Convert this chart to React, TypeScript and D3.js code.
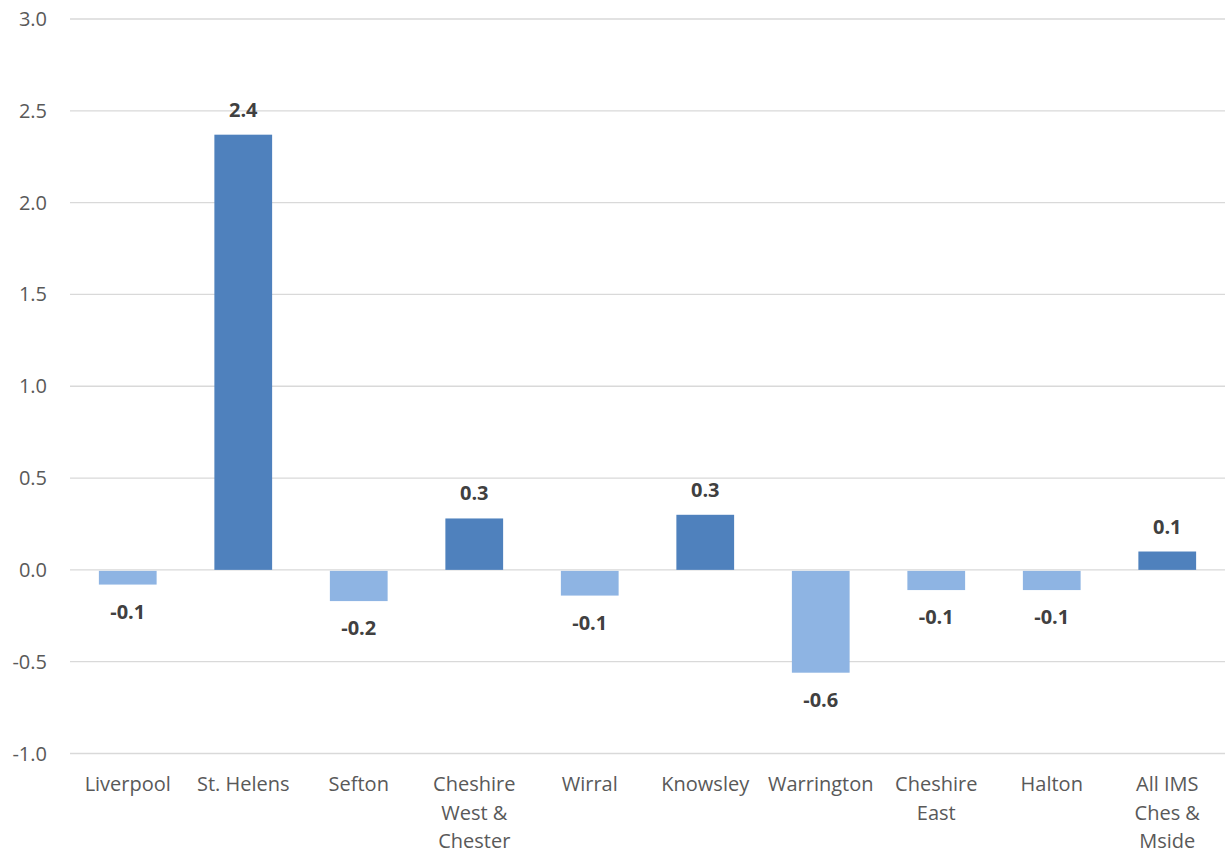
import React from "react";
import * as d3 from "d3";

const categories: string[][] = [
  ["Liverpool"],
  ["St. Helens"],
  ["Sefton"],
  ["Cheshire", "West &", "Chester"],
  ["Wirral"],
  ["Knowsley"],
  ["Warrington"],
  ["Cheshire", "East"],
  ["Halton"],
  ["All IMS", "Ches &", "Mside"],
];
const values: number[] = [-0.08, 2.37, -0.17, 0.28, -0.14, 0.3, -0.56, -0.11, -0.11, 0.1];
const yTicks: number[] = [-1.0, -0.5, 0.0, 0.5, 1.0, 1.5, 2.0, 2.5, 3.0];

const W = 1225;
const H = 854;
const margin = { left: 70, right: 0, top: 19, bottom: 100 };

const fmt = (v: number) => d3.format(".1f")(v).replace("\u2212", "-");

export default function App() {
  const x = d3
    .scaleBand<number>()
    .domain(values.map((_, i) => i))
    .range([margin.left, W - margin.right])
    .paddingInner(0.5)
    .paddingOuter(0.25);
  const y = d3.scaleLinear().domain([-1, 3]).range([753.5, 19]);
  const font = "'Open Sans', sans-serif";
  return (
    <svg
      width={W}
      height={H}
      style={{ position: "absolute", left: 0, top: 0, background: "#fff" }}
    >
      {yTicks.map((t) => (
        <g key={t}>
          <line
            x1={margin.left}
            x2={W - margin.right}
            y1={y(t)}
            y2={y(t)}
            stroke="#d9d9d9"
            strokeWidth={1.3}
          />
          <text
            x={47}
            y={y(t)}
            dy="0.35em"
            textAnchor="end"
            fontFamily={font}
            fontSize={20}
            fill="#595959"
          >
            {fmt(t)}
          </text>
        </g>
      ))}
      {values.map((v, i) => {
        const x0 = x(i)!;
        const bw = x.bandwidth();
        const top = v >= 0 ? y(v) : y(0) + 1;
        const h = Math.abs(y(v) - y(0));
        const cx = x0 + bw / 2;
        return (
          <g key={i}>
            <rect
              x={x0}
              y={top}
              width={bw}
              height={v >= 0 ? h : h - 1}
              fill={v >= 0 ? "#4f81bd" : "#8eb4e3"}
            />
            <text
              x={cx}
              y={v >= 0 ? y(v) - 25 : y(v) + 27}
              dy="0.35em"
              textAnchor="middle"
              fontFamily={font}
              fontWeight="bold"
              fontSize={20}
              fill="#404040"
            >
              {fmt(Math.round(v * 10) / 10)}
            </text>
          </g>
        );
      })}
      {categories.map((lines, i) => (
        <text
          key={i}
          x={x(i)! + x.bandwidth() / 2}
          y={784}
          textAnchor="middle"
          fontFamily={font}
          fontSize={20}
          fill="#595959"
        >
          {lines.map((l, j) => (
            <tspan key={j} x={x(i)! + x.bandwidth() / 2} y={784 + j * 28.5} dy="0.35em">
              {l}
            </tspan>
          ))}
        </text>
      ))}
    </svg>
  );
}
